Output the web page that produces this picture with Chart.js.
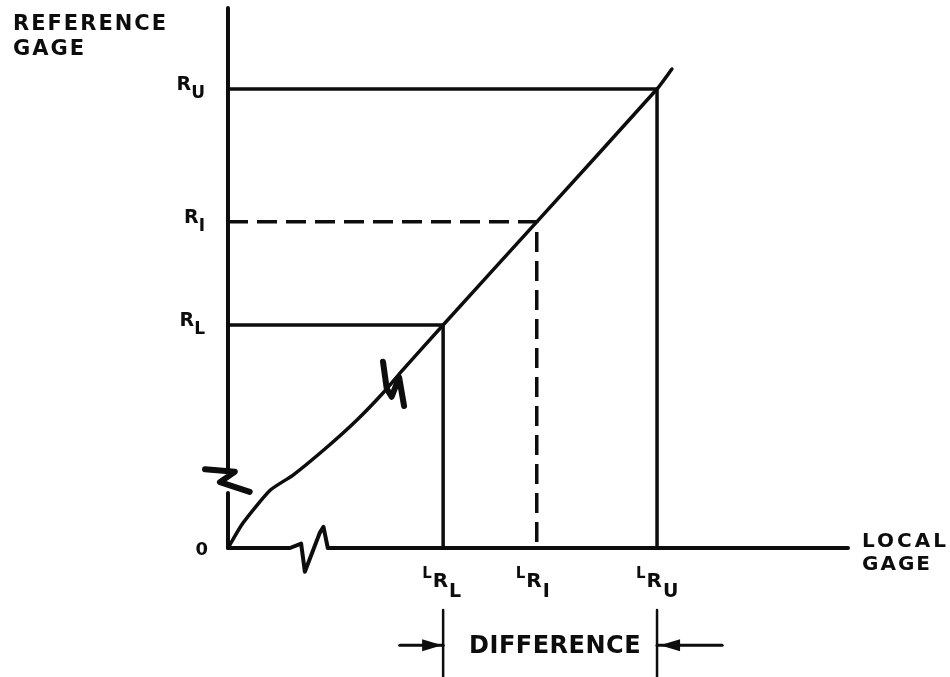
<!DOCTYPE html>
<html>
<head>
<meta charset="utf-8">
<title>Reference gage vs local gage</title>
<script src="https://cdn.jsdelivr.net/npm/chart.js@4.4.1/dist/chart.umd.min.js"></script>
<style>
  html, body { margin: 0; padding: 0; background: #fff; }
  #wrap { width: 950px; height: 677px; }
</style>
</head>
<body>
<div id="wrap"><canvas id="gageChart" width="950" height="677"></canvas></div>
<script>
// DATA
const levelSubs = ["L", "I", "U"];           // R_L, R_I, R_U
const refLevels = [41.3, 60.4, 85.0];        // reference gage readings
const localLevels = [34.7, 49.8, 69.2];      // matching local gage readings
const dashedLevel = [false, true, false];

// calibration curve
const curveX = [0, 2.4, 6.8, 10.5, 16.0, 20.8, 25.0, 28.2, 34.7, 49.8, 69.2, 71.6];
const curveY = [0, 4.6, 10.7, 13.5, 18.7, 23.7, 28.7, 33.0, 41.3, 60.4, 85.0, 88.7];

// axes, with the break marks
const xAxisX = [0, 10.0, 11.8, 12.4, 14.8, 15.4, 16.1, 100];
const xAxisY = [0, 0, 0.8, -4.4, 2.8, 3.9, 0, 0];
const yBreakX = [-3.7, 1.1, -1.3, 3.5];
const yBreakY = [14.6, 14.1, 12.2, 10.4];
const curveBreakX = [25.0, 25.6, 26.4, 27.6, 28.4];
const curveBreakY = [34.5, 29.5, 28.0, 31.6, 26.3];

const yTitle = ["REFERENCE", "GAGE"];
const xTitle = ["LOCAL", "GAGE"];
const zeroLabel = "0";
const diffLabel = "DIFFERENCE";

const ink = "#0d0d0d";
const pts = (xs, ys) => xs.map((v, i) => ({ x: v, y: ys[i] }));

function line(data, opts) {
  return Object.assign({
    data: data,
    showLine: true,
    borderColor: ink,
    borderWidth: 3.5,
    pointRadius: 0,
    tension: 0,
    borderCapStyle: "round",
    borderJoinStyle: "round",
    fill: false
  }, opts || {});
}

const datasets = [];
// axes
datasets.push(line([{ x: 0, y: 100 }, { x: 0, y: 14.4 }], { borderWidth: 4 }));
datasets.push(line([{ x: 0, y: 10.2 }, { x: 0, y: 0 }], { borderWidth: 4 }));
datasets.push(line(pts(yBreakX, yBreakY), { borderWidth: 6 }));
datasets.push(line(pts(xAxisX, xAxisY), { borderWidth: 4 }));
// curve
datasets.push(line(pts(curveX, curveY), { tension: 0.2 }));
datasets.push(line(pts(curveBreakX, curveBreakY), { borderWidth: 6 }));
// level lines
refLevels.forEach((r, i) => {
  const dash = dashedLevel[i] ? [20, 9] : [];
  datasets.push(line([{ x: 0, y: r }, { x: localLevels[i], y: r }, { x: localLevels[i], y: 0 }],
    { borderDash: dash, borderCapStyle: "butt" }));
});
// difference brackets
const arrowY = -18.0;
[0, 2].forEach(i => {
  datasets.push(line([{ x: localLevels[i], y: -11.5 }, { x: localLevels[i], y: -24 }], { borderWidth: 2.5 }));
});
datasets.push(line([{ x: localLevels[0] - 7, y: arrowY }, { x: localLevels[0], y: arrowY }], { borderWidth: 3 }));
datasets.push(line([{ x: localLevels[2], y: arrowY }, { x: localLevels[2] + 10.5, y: arrowY }], { borderWidth: 3 }));

// TEXT + ARROWHEADS
const textPlugin = {
  id: "gageText",
  afterDatasetsDraw(chart) {
    const { ctx, scales: { x, y } } = chart;
    const x0 = x.getPixelForValue(0);
    const y0 = y.getPixelForValue(0);
    ctx.save();
    ctx.fillStyle = ink;
    ctx.textBaseline = "alphabetic";

    // axis titles
    ctx.font = "bold 21px 'DejaVu Sans'";
    ctx.letterSpacing = "2px";
    ctx.textAlign = "left";
    ctx.fillText(yTitle[0], 13, 30);
    ctx.fillText(yTitle[1], 13, 55);
    ctx.font = "bold 20px 'DejaVu Sans'";
    ctx.letterSpacing = "3px";
    ctx.fillText(xTitle[0], 862, 547);
    ctx.letterSpacing = "2px";
    ctx.fillText(xTitle[1], 862, 570);

    // zero
    ctx.letterSpacing = "0px";
    ctx.font = "bold 18px 'DejaVu Sans'";
    ctx.textAlign = "right";
    ctx.fillText(zeroLabel, x0 - 20, y0 + 7);
    ctx.textAlign = "left";

    // R labels on y axis
    refLevels.forEach((r, i) => {
      const py = y.getPixelForValue(r);
      ctx.font = "bold 19px 'DejaVu Sans'";
      const wR = ctx.measureText("R").width;
      ctx.font = "bold 17px 'DejaVu Sans'";
      const wS = ctx.measureText(levelSubs[i]).width;
      const sx = x0 - 23 - wS - wR;
      ctx.font = "bold 19px 'DejaVu Sans'";
      ctx.fillText("R", sx, py + 1);
      ctx.font = "bold 17px 'DejaVu Sans'";
      ctx.fillText(levelSubs[i], sx + wR, py + 9);
    });

    // L_R labels on x axis
    localLevels.forEach((l, i) => {
      const px = x.getPixelForValue(l);
      let sx = px - 21;
      ctx.font = "bold 15px 'DejaVu Sans'";
      ctx.fillText("L", sx, y0 + 30);
      sx += ctx.measureText("L").width + 1;
      ctx.font = "bold 20px 'DejaVu Sans'";
      ctx.fillText("R", sx, y0 + 39);
      sx += ctx.measureText("R").width + 1;
      ctx.font = "bold 19px 'DejaVu Sans'";
      ctx.fillText(levelSubs[i], sx, y0 + 49);
    });

    // DIFFERENCE
    const pl = x.getPixelForValue(localLevels[0]);
    const pu = x.getPixelForValue(localLevels[2]);
    const ay = y.getPixelForValue(arrowY);
    ctx.font = "bold 24px 'DejaVu Sans'";
    ctx.letterSpacing = "0.5px";
    ctx.textAlign = "center";
    ctx.fillText(diffLabel, (pl + pu) / 2 + 5, ay + 8);

    // arrowheads
    ctx.beginPath();
    ctx.moveTo(pl - 1, ay);
    ctx.lineTo(pl - 21, ay - 6);
    ctx.lineTo(pl - 21, ay + 6);
    ctx.closePath();
    ctx.fill();
    ctx.beginPath();
    ctx.moveTo(pu + 3, ay);
    ctx.lineTo(pu + 23, ay - 6);
    ctx.lineTo(pu + 23, ay + 6);
    ctx.closePath();
    ctx.fill();
    ctx.restore();
  }
};

new Chart(document.getElementById("gageChart"), {
  type: "scatter",
  data: { datasets: datasets },
  options: {
    responsive: false,
    animation: false,
    layout: { padding: 0 },
    scales: {
      x: { type: "linear", display: false, min: -36.77, max: 116.45 },
      y: { type: "linear", display: false, min: -23.89, max: 101.48 }
    },
    plugins: { legend: { display: false }, tooltip: { enabled: false } }
  },
  plugins: [textPlugin]
});
</script>
</body>
</html>
